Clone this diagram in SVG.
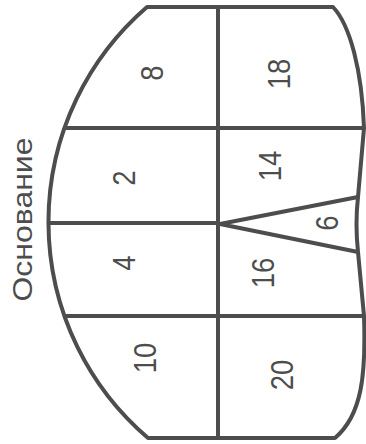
<svg xmlns="http://www.w3.org/2000/svg" width="366" height="444" viewBox="0 0 366 444">
<style>
.ln{fill:none;stroke:#4d4d4d;stroke-width:4;stroke-linejoin:round}
.t{font-family:"Liberation Sans",Arial,sans-serif;font-size:32px;fill:#4d4d4d;text-anchor:middle;dominant-baseline:central}
.lb{font-family:"Liberation Sans",Arial,sans-serif;font-size:28px;fill:#4d4d4d;text-anchor:middle;dominant-baseline:central}
</style>
<rect width="366" height="444" fill="#fff"/>
<g id="outline">
<path class="ln" d="M147,7 L333,7 C350,25 362,70 364,128 L358,197 Q355,224 358,252 L364,316 C366,375 362,415 335,438 L148,438 A284,284 0 0 1 147,7 Z"/>
</g>
<g id="connectors">
<line class="ln" x1="218" y1="7" x2="218" y2="438"/>
<line class="ln" x1="64" y1="128" x2="364" y2="128"/>
<line class="ln" x1="64" y1="316" x2="364" y2="316"/>
<line class="ln" x1="48" y1="223" x2="218" y2="223"/>
<path class="ln" d="M358,197 L220,224 L358,252" stroke-width="4.5"/>
</g>
<g id="n8"><text class="t" transform="translate(152,73) rotate(-90) scale(0.86,1)">8</text></g>
<g id="n18"><text class="t" transform="translate(279,74) rotate(-90) scale(0.86,1)">18</text></g>
<g id="n2"><text class="t" transform="translate(124,178) rotate(-90) scale(0.86,1)">2</text></g>
<g id="n14"><text class="t" transform="translate(270,166) rotate(-90) scale(0.86,1)">14</text></g>
<g id="n4"><text class="t" transform="translate(124,263) rotate(-90) scale(0.86,1)">4</text></g>
<g id="n16"><text class="t" transform="translate(263,273) rotate(-90) scale(0.86,1)">16</text></g>
<g id="n6"><text class="t" transform="translate(327,223) rotate(-90) scale(0.86,1)">6</text></g>
<g id="n10"><text class="t" transform="translate(145,358) rotate(-90) scale(0.86,1)">10</text></g>
<g id="n20"><text class="t" transform="translate(282,375) rotate(-90) scale(0.86,1)">20</text></g>
<g id="label"><text class="lb" transform="translate(22,219.5) rotate(-90)" textLength="164" lengthAdjust="spacingAndGlyphs">Основание</text></g>
</svg>
